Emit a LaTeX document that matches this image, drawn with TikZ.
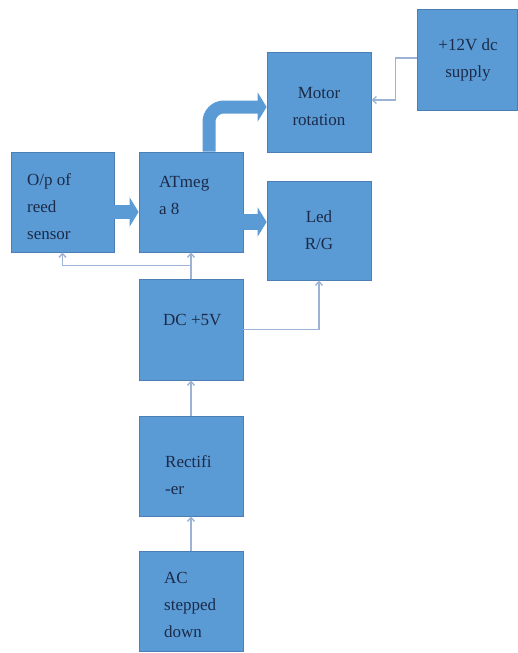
\documentclass[tikz,border=0pt]{standalone}
\usepackage{fontspec}
\setmainfont{Liberation Serif}
\usetikzlibrary{arrows.meta,calc}
\definecolor{boxfill}{HTML}{5B9BD5}
\definecolor{boxline}{HTML}{4A7EB5}
\definecolor{thinline}{HTML}{9CB3D6}
\definecolor{txtcol}{HTML}{1B2A48}
\tikzset{
  blockbox/.style={draw=boxline, line width=0.8pt, fill=boxfill, minimum width=104pt, minimum height=100pt, inner sep=0pt},
  txt/.style={text=txtcol, font=\fontsize{17}{27}\selectfont, inner sep=0pt, align=left},
  txtc/.style={text=txtcol, font=\fontsize{17}{27}\selectfont, inner sep=0pt, align=center},
  thinconn/.style={draw=thinline, line width=1.4pt, -{Straight Barb[length=4pt,width=7pt]}},
  fatarrow/.style={draw=boxfill, line width=#1, -{Triangle[length=9pt,width=29pt]}},
}
\begin{document}
\begin{tikzpicture}[x=1pt,y=-1pt]
\useasboundingbox (0,0) rectangle (517,653);
% boxes
\node[blockbox, minimum width=103pt] (op) at (62.5,202) {};
\node[blockbox] (atm) at (191,202) {};
\node[blockbox] (motor) at (319,102) {};
\node[blockbox, minimum height=99pt] (led) at (319,230.5) {};
\node[blockbox, minimum width=100pt, minimum height=101pt] (sup) at (467,59.5) {};
\node[blockbox, minimum height=101pt] (dc) at (191,329.5) {};
\node[blockbox] (rect) at (191,466) {};
\node[blockbox] (ac) at (191,601) {};
% texts
\node[txt, anchor=west] (topt) at (27,207) {O/p of\\reed\\sensor};
\node[txt, anchor=west] (tatm) at (159,195) {ATmeg\\a 8};
\node[txtc] (tmot) at (319,107) {Motor\\rotation};
\node[txtc] (tled) at (319,230) {Led\\R/G};
\node[txtc] (tsup) at (468,60) {+12V dc\\supply};
\node[txt, anchor=west] (tdc) at (163,320) {DC +5V};
\node[txt, anchor=west] (trect) at (165,475) {Rectifi\\-er};
\node[txt, anchor=west] (tac) at (164,605) {AC\\stepped\\down};
% fat arrows
\draw[fatarrow=14pt] ($(op.east)+(0,10)$) -- ($(atm.west)+(0,10)$);
\draw[fatarrow=16pt] ($(atm.east)+(0,20)$) -- ($(led.west)+(0,-8.5)$);
\draw[fatarrow=13pt, rounded corners=15pt] ($(atm.north)+(18,0)$) |- ($(motor.west)+(0,5)$);
% thin connectors
\draw[thinconn] ($(sup.west)+(0,-1.5)$) -| ($(motor.east)+(24,-2)$) -- ($(motor.east)+(0,-2)$);
\draw[thinconn] (dc.north) -- (atm.south);
\draw[thinconn] ($(dc.north)+(0,-13)$) -| (op.south);
\draw[thinconn] (dc.east) -| (led.south);
\draw[thinconn] (rect.north) -- (dc.south);
\draw[thinconn] (ac.north) -- (rect.south);
\end{tikzpicture}
\end{document}
